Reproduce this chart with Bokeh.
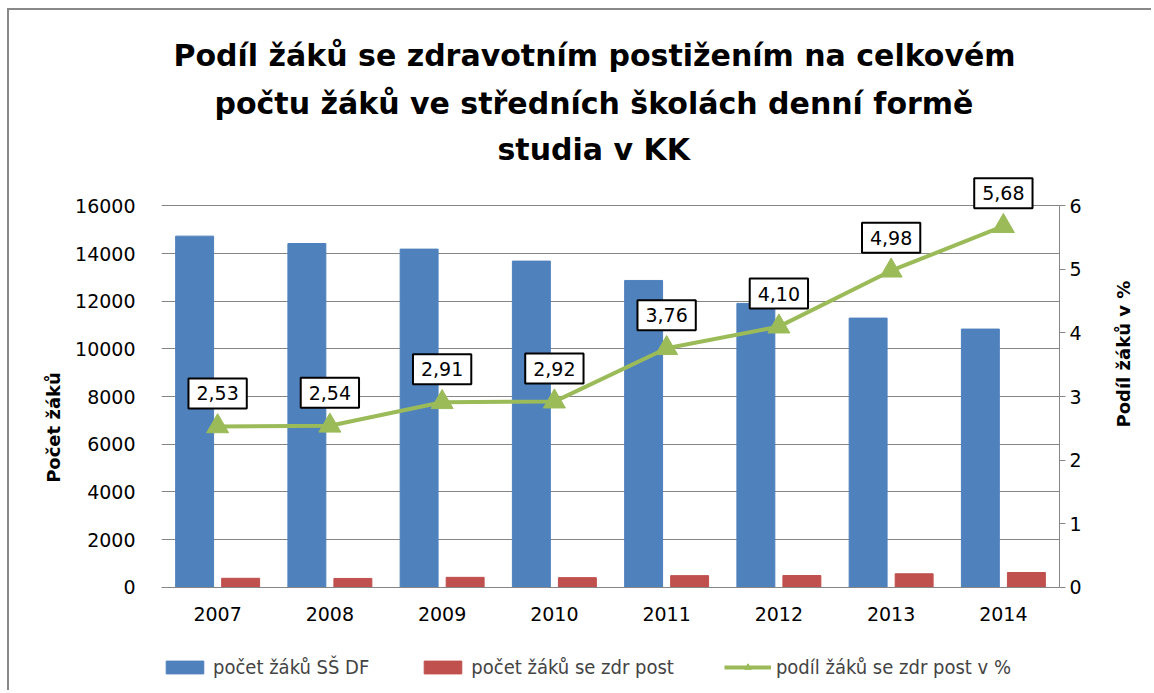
import math
from bokeh.plotting import figure
from bokeh.models import (ColumnDataSource, FactorRange, Range1d, LinearAxis, FixedTicker,
                          Label, Legend, LegendItem, Title)
from bokeh.transform import dodge
from bokeh.embed import file_html
from bokeh.resources import INLINE

years = ["2007", "2008", "2009", "2010", "2011", "2012", "2013", "2014"]
total_students = [14730, 14420, 14185, 13682, 12870, 11906, 11291, 10830]
disabled_students = [373, 366, 413, 400, 484, 488, 562, 615]
share_pct = [2.53, 2.54, 2.91, 2.92, 3.76, 4.10, 4.98, 5.68]
share_labels = ["2,53", "2,54", "2,91", "2,92", "3,76", "4,10", "4,98", "5,68"]
left_ticks = [0, 2000, 4000, 6000, 8000, 10000, 12000, 14000, 16000]
right_ticks = [0, 1, 2, 3, 4, 5, 6]

title_lines = ["Podíl žáků se zdravotním postižením na celkovém",
               "počtu žáků ve středních školách denní formě",
               "studia v KK"]

BLUE = "#4F81BD"
RED = "#C0504D"
GREEN = "#9BBB59"
GRID = "#868686"
FONT = "DejaVu Sans"

LEFT_MAX = 16000
RIGHT_MAX = 6
TOP_ROOM = 1.0875     # room above the top gridline for the last data label
BOTTOM_ROOM = 0.25    # room below zero for the category labels and the legend

src = ColumnDataSource(dict(year=years, total=total_students, dis=disabled_students,
                            pct=share_pct, lab=share_labels))

p = figure(x_range=FactorRange(*years),
           y_range=Range1d(-LEFT_MAX * BOTTOM_ROOM, LEFT_MAX * TOP_ROOM),
           width=1144, height=682, output_backend="svg", toolbar_location=None,
           min_border_left=152, min_border_right=94, min_border_top=162, min_border_bottom=10)
p.margin = (8, 0, 0, 7)
p.styles = {"border-left": "2px solid #888888", "border-top": "2px solid #888888"}

# title: three lines, stacked outward from the frame
title_offsets = [336, 53, 12]      # line 3, line 2, line 1 (px from frame left)
title_standoffs = [11, 8, 14]
for line, off, so in zip(reversed(title_lines), title_offsets, title_standoffs):
    p.add_layout(Title(text=line, align="left", offset=off,
                       text_font=FONT, text_font_size="30px", text_font_style="bold",
                       text_color="black", standoff=so), "above")

p.outline_line_color = None
p.background_fill_color = "white"
p.border_fill_color = "white"

p.extra_y_ranges = {"pct": Range1d(-RIGHT_MAX * BOTTOM_ROOM, RIGHT_MAX * TOP_ROOM)}

b1 = p.vbar(x=dodge("year", -0.205, range=p.x_range), top="total", width=0.338,
            source=src, color=BLUE, line_color=BLUE)
b2 = p.vbar(x=dodge("year", 0.205, range=p.x_range), top="dis", width=0.338,
            source=src, color=RED, line_color=RED)
ln = p.line(x="year", y="pct", source=src, y_range_name="pct", line_color=GREEN, line_width=4)
mk = p.scatter(x="year", y="pct", source=src, y_range_name="pct", marker="triangle",
               size=22, fill_color=GREEN, line_color=GREEN)

# data labels (categorical factor i is centred at i + 0.5 on the synthetic axis)
for i, (v, lab) in enumerate(zip(share_pct, share_labels)):
    p.add_layout(Label(x=i + 0.5, y=v, text=lab, y_range_name="pct",
                       y_offset=33, text_align="center", text_baseline="middle",
                       text_font=FONT, text_font_size="19px", text_color="black",
                       border_line_color="black", border_line_width=2,
                       background_fill_color="white", padding=8))

# left axis
ya = p.yaxis[0]
ya.ticker = FixedTicker(ticks=left_ticks)
ya.axis_line_color = None
ya.major_tick_line_color = None
ya.minor_tick_line_color = None
ya.major_label_text_font = FONT
ya.major_label_text_font_size = "19px"
ya.major_label_text_color = "black"
ya.major_label_standoff = 20
ya.axis_label = "Počet žáků"
ya.axis_label_text_font = FONT
ya.axis_label_text_font_size = "18px"
ya.axis_label_text_font_style = "bold"
ya.axis_label_text_color = "black"
ya.axis_label_standoff = 8

# right axis
ra = LinearAxis(y_range_name="pct", ticker=FixedTicker(ticks=right_ticks), bounds=(0, RIGHT_MAX))
ra.axis_line_color = GRID
ra.major_tick_line_color = GRID
ra.major_tick_out = 6
ra.major_tick_in = 0
ra.minor_tick_line_color = None
ra.major_label_text_font = FONT
ra.major_label_text_font_size = "19px"
ra.major_label_text_color = "black"
ra.major_label_standoff = 4
ra.axis_label = "Podíl žáků v %"
ra.axis_label_orientation = math.pi / 2
ra.axis_label_text_font = FONT
ra.axis_label_text_font_size = "18px"
ra.axis_label_text_font_style = "bold"
ra.axis_label_text_color = "black"
ra.axis_label_standoff = 39
p.add_layout(ra, "right")

# x axis, pinned at zero
xa = p.xaxis[0]
xa.fixed_location = 0
xa.axis_line_color = GRID
xa.major_tick_line_color = None
xa.minor_tick_line_color = None
xa.major_label_text_font = FONT
xa.major_label_text_font_size = "19px"
xa.major_label_text_color = "black"
xa.major_label_standoff = 14

p.xgrid.grid_line_color = None
p.ygrid.grid_line_color = GRID
p.ygrid.ticker = FixedTicker(ticks=left_ticks)

legend = Legend(items=[LegendItem(label="počet žáků SŠ DF", renderers=[b1]),
                       LegendItem(label="počet žáků se zdr post", renderers=[b2]),
                       LegendItem(label="podíl žáků se zdr post v %", renderers=[ln, mk])],
                orientation="horizontal", location=(0, 3),
                label_text_font="DejaVu Sans Condensed", label_text_font_size="20px",
                glyph_width=47, glyph_height=16, label_standoff=5, spacing=50,
                border_line_color=None, background_fill_alpha=0, padding=4, margin=0)
p.add_layout(legend, "center")

open("out.html", "w").write(file_html(p, INLINE))
